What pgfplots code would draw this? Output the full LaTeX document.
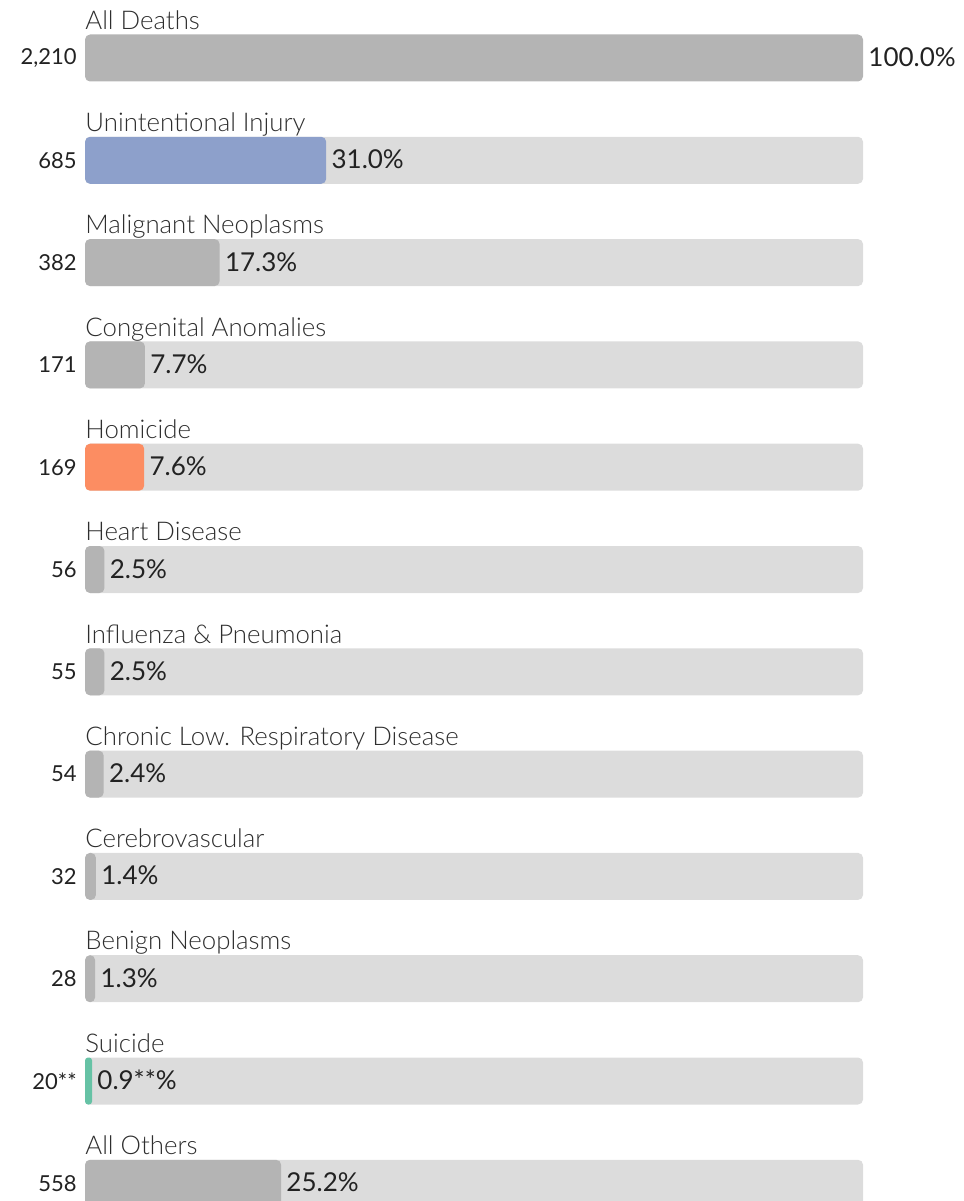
\documentclass[border=0pt]{standalone}
\usepackage{pgfplots}
\pgfplotsset{compat=1.18}
\usepackage{fontspec}
\setmainfont{Lato}
\newfontfamily\lightfont{Lato Light}
\definecolor{bgbar}{HTML}{DCDCDC}
\definecolor{graybar}{HTML}{B4B4B4}
\definecolor{blue2}{HTML}{8DA0CB}
\definecolor{orange2}{HTML}{FC8D62}
\definecolor{green2}{HTML}{66C2A5}
\definecolor{labtxt}{HTML}{2E2E2E}
\definecolor{numtxt}{HTML}{222222}
\tikzset{
  cat/.style={anchor=base west, inner sep=0pt, yshift=14.4pt, font=\lightfont\fontsize{12.9}{14}\selectfont, text=labtxt},
  cnt/.style={anchor=east, inner sep=0pt, xshift=-4pt, font=\fontsize{11}{13}\selectfont, text=numtxt},
  pct/.style={anchor=west, inner sep=0pt, xshift=2.5pt, yshift=0.4pt, font=\fontsize{13}{15}\selectfont, text=numtxt},
}
\begin{document}
\begin{tikzpicture}
\begin{axis}[
  scale only axis, width=389pt, height=600.5pt,
  xmin=0, xmax=100, ymin=-0.567, ymax=11.173, y dir=reverse,
  axis lines=none, ticks=none,
  xbar, bar width=23.5pt, bar shift=0pt,
  clip=false,
]
% background tracks
\addplot[fill=bgbar, draw=none, rounded corners=2.5pt] coordinates {
 (100,1) (100,2) (100,3) (100,4) (100,5) (100,6) (100,7) (100,8) (100,9) (100,10) (100,11)};
% gray value bars
\addplot[fill=graybar, draw=none, rounded corners=2.5pt] coordinates {
 (100,0) (17.3,2) (7.7,3) (2.5,5) (2.5,6) (2.4,7) (1.4,8) (1.3,9) (25.2,11)};
% coloured value bars
\addplot[fill=blue2, draw=none, rounded corners=2.5pt] coordinates {(31.0,1)};
\addplot[fill=orange2, draw=none, rounded corners=2.5pt] coordinates {(7.6,4)};
\addplot[fill=green2, draw=none, rounded corners=1.5pt] coordinates {(0.9,10)};

\node[cat] at (axis cs:0,0) {All Deaths};
\node[cat] at (axis cs:0,1) {Unintentional Injury};
\node[cat] at (axis cs:0,2) {Malignant Neoplasms};
\node[cat] at (axis cs:0,3) {Congenital Anomalies};
\node[cat] at (axis cs:0,4) {Homicide};
\node[cat] at (axis cs:0,5) {Heart Disease};
\node[cat] at (axis cs:0,6) {Influenza \& Pneumonia};
\node[cat] at (axis cs:0,7) {Chronic Low. Respiratory Disease};
\node[cat] at (axis cs:0,8) {Cerebrovascular};
\node[cat] at (axis cs:0,9) {Benign Neoplasms};
\node[cat] at (axis cs:0,10) {Suicide};
\node[cat] at (axis cs:0,11) {All Others};

\node[cnt] at (axis cs:0,0) {2,210};
\node[cnt] at (axis cs:0,1) {685};
\node[cnt] at (axis cs:0,2) {382};
\node[cnt] at (axis cs:0,3) {171};
\node[cnt] at (axis cs:0,4) {169};
\node[cnt] at (axis cs:0,5) {56};
\node[cnt] at (axis cs:0,6) {55};
\node[cnt] at (axis cs:0,7) {54};
\node[cnt] at (axis cs:0,8) {32};
\node[cnt] at (axis cs:0,9) {28};
\node[cnt] at (axis cs:0,10) {20**};
\node[cnt] at (axis cs:0,11) {558};

\node[pct] at (axis cs:100,0) {100.0\%};
\node[pct] at (axis cs:31.0,1) {31.0\%};
\node[pct] at (axis cs:17.3,2) {17.3\%};
\node[pct] at (axis cs:7.7,3) {7.7\%};
\node[pct] at (axis cs:7.6,4) {7.6\%};
\node[pct] at (axis cs:2.5,5) {2.5\%};
\node[pct] at (axis cs:2.5,6) {2.5\%};
\node[pct] at (axis cs:2.4,7) {2.4\%};
\node[pct] at (axis cs:1.4,8) {1.4\%};
\node[pct] at (axis cs:1.3,9) {1.3\%};
\node[pct] at (axis cs:0.9,10) {0.9**\%};
\node[pct] at (axis cs:25.2,11) {25.2\%};

\coordinate (bbsw) at (axis cs:-10.93,11.173);
\coordinate (bbne) at (axis cs:112.85,-0.567);
\end{axis}
\pgfresetboundingbox
\path[use as bounding box] (bbsw) rectangle (bbne);
\end{tikzpicture}
\end{document}
